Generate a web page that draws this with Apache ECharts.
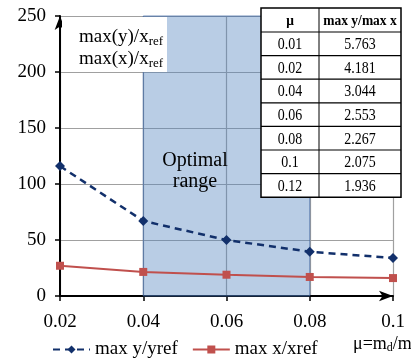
<!DOCTYPE html>
<html>
<head>
<meta charset="utf-8">
<script src="https://cdn.jsdelivr.net/npm/echarts@6/dist/echarts.min.js"></script>
<style>
  html, body { margin: 0; padding: 0; background: #fff; }
  #chart { width: 411px; height: 361px; }
</style>
</head>
<body>
<div id="chart"></div>
<script>
// ─── 데이터 ───
const MU = [0.02, 0.04, 0.06, 0.08, 0.1];
const MAX_Y = [116, 67, 50, 39.5, 34];
const MAX_X = [27, 21.5, 19, 17, 16];
const OPTIMAL = [0.04, 0.08];

const TABLE_MU = ['0.01', '0.02', '0.04', '0.06', '0.08', '0.1', '0.12'];
const TABLE_RATIO = ['5.763', '4.181', '3.044', '2.553', '2.267', '2.075', '1.936'];
const TABLE_HEAD = ['μ', 'max y/max x'];

const FONT = "'Liberation Serif', 'DejaVu Serif', serif";
const BLUE = '#12306b';
const RED = '#c0504d';

// ─── 표 (오른쪽 위) ───
function buildTable() {
  const x0 = 261, x1 = 319, x2 = 401;
  const top = 8, headH = 24, rowH = 23.6;
  const els = [];
  const rows = TABLE_MU.length;
  const bottom = top + headH + rows * rowH;
  els.push({ type: 'rect', z: 100, shape: { x: x0, y: top, width: x2 - x0, height: bottom - top },
    style: { fill: '#fff', stroke: '#000', lineWidth: 1.5 } });
  els.push({ type: 'line', z: 101, shape: { x1: x1, y1: top, x2: x1, y2: bottom }, style: { stroke: '#000', lineWidth: 1 } });
  for (let i = 0; i < rows; i++) {
    const y = top + headH + i * rowH;
    els.push({ type: 'line', z: 101, shape: { x1: x0, y1: y, x2: x2, y2: y }, style: { stroke: '#000', lineWidth: 1.2 } });
  }
  const cx = [(x0 + x1) / 2, (x1 + x2) / 2];
  TABLE_HEAD.forEach((t, j) => {
    els.push({ type: 'text', z: 102, x: cx[j], y: top + headH / 2 + 1, scaleX: 0.9,
      style: { text: t, fontFamily: FONT, fontSize: 15, fontWeight: 'bold', fill: '#000', align: 'center', verticalAlign: 'middle' } });
  });
  for (let i = 0; i < rows; i++) {
    const y = top + headH + i * rowH + rowH / 2 + 1;
    [TABLE_MU[i], TABLE_RATIO[i]].forEach((t, j) => {
      els.push({ type: 'text', z: 102, x: cx[j], y, scaleX: 0.82,
        style: { text: t, fontFamily: FONT, fontSize: 17, fill: '#000', align: 'center', verticalAlign: 'middle' } });
    });
  }
  return els;
}

const chart = echarts.init(document.getElementById('chart'), null, { renderer: 'canvas' });

chart.setOption({
  backgroundColor: '#ffffff',
  animation: false,
  textStyle: { fontFamily: FONT, color: '#000' },
  grid: { left: 60, right: 18, top: 16, bottom: 65 },
  legend: {
    left: 47, top: 335,
    itemWidth: 37, itemHeight: 10, itemGap: 14,
    textStyle: { fontFamily: FONT, fontSize: 19, color: '#000' },
    data: ['max y/yref', 'max x/xref'],
  },
  xAxis: {
    type: 'value',
    min: 0.02, max: 0.1, interval: 0.02,
    axisLine: { lineStyle: { color: '#000', width: 2 }, symbol: ['none', 'arrow'], symbolSize: [8, 14] },
    axisTick: { show: true, length: 5, lineStyle: { color: '#000', width: 1.5 } },
    axisLabel: { fontFamily: FONT, fontSize: 19, color: '#000', margin: 17,
      formatter: (v) => String(+v.toFixed(2)) },
    splitLine: { show: true, lineStyle: { color: '#a0a0a0', width: 1.2 } },
  },
  yAxis: {
    type: 'value',
    min: 0, max: 250, interval: 50,
    axisLine: { show: true, lineStyle: { color: '#000', width: 2 }, symbol: ['none', 'arrow'], symbolSize: [8, 14] },
    axisTick: { show: true, length: 5, lineStyle: { color: '#000', width: 1.5 } },
    axisLabel: { fontFamily: FONT, fontSize: 19, color: '#000', margin: 14 },
    splitLine: { show: true, lineStyle: { color: '#a0a0a0', width: 1.2 } },
  },
  series: [
    {
      name: 'max y/yref',
      type: 'line',
      data: MU.map((m, i) => [m, MAX_Y[i]]),
      symbol: 'diamond', symbolSize: 10,
      lineStyle: { color: BLUE, width: 2.5, type: [7, 5] },
      itemStyle: { color: BLUE },
      z: 5,
      markArea: {
        silent: true,
        itemStyle: { color: 'rgba(79,129,189,0.4)', borderColor: 'rgba(60,100,160,0.7)', borderWidth: 1 },
        data: [[{ xAxis: OPTIMAL[0] }, { xAxis: OPTIMAL[1] }]],
      },
    },
    {
      name: 'max x/xref',
      type: 'line',
      data: MU.map((m, i) => [m, MAX_X[i]]),
      symbol: 'rect', symbolSize: 8,
      lineStyle: { color: RED, width: 2 },
      itemStyle: { color: RED },
      z: 4,
    },
  ],
  graphic: [
    // 왼쪽 위 축 제목 박스
    { type: 'rect', z: 100, shape: { x: 62, y: 17, width: 105, height: 55 }, style: { fill: '#fff' } },
    { type: 'text', z: 101, x: 79, y: 37,
      style: { text: 'max(y)/x{s|ref}', fontFamily: FONT, fontSize: 19, fill: '#000', verticalAlign: 'middle',
        rich: { s: { fontFamily: FONT, fontSize: 13, fill: '#000', padding: [9, 0, 0, 0] } } } },
    { type: 'text', z: 101, x: 79, y: 59,
      style: { text: 'max(x)/x{s|ref}', fontFamily: FONT, fontSize: 19, fill: '#000', verticalAlign: 'middle',
        rich: { s: { fontFamily: FONT, fontSize: 13, fill: '#000', padding: [9, 0, 0, 0] } } } },
    // Optimal range
    { type: 'text', z: 101, x: 195, y: 171,
      style: { text: 'Optimal\nrange', fontFamily: FONT, fontSize: 20, lineHeight: 21, fill: '#000', align: 'center', verticalAlign: 'middle' } },
    // x 축 제목
    { type: 'text', z: 101, x: 353, y: 344,
      style: { text: 'μ=m{s|d}/m', fontFamily: FONT, fontSize: 18, fill: '#000', verticalAlign: 'middle',
        rich: { s: { fontFamily: FONT, fontSize: 12, fill: '#000', padding: [8, 0, 0, 0] } } } },
    ...buildTable(),
  ],
});
</script>
</body>
</html>
